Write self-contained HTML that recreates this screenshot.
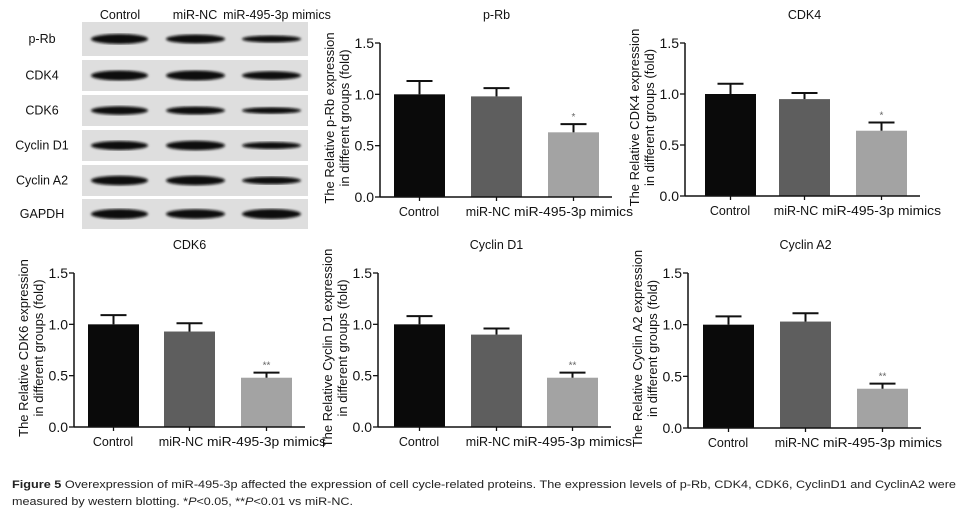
<!DOCTYPE html>
<html><head><meta charset="utf-8"><style>
html,body{margin:0;padding:0;background:#fff;}
svg{display:block;font-family:"Liberation Sans",Arial,sans-serif;}
</style></head><body>
<svg id="s" width="975" height="523" viewBox="0 0 975 523" xmlns="http://www.w3.org/2000/svg">
<rect width="975" height="523" fill="#fff"/>
<defs>
<filter id="bl"><feGaussianBlur stdDeviation="1.4"/></filter>
</defs>
<g font-size="12.5" fill="#111">
<text x="120" y="19" text-anchor="middle">Control</text>
<text x="195" y="19" text-anchor="middle">miR-NC</text>
<text x="277" y="19" text-anchor="middle">miR-495-3p mimics</text>
</g>
<g id="wb"></g>
<g id="charts"></g>
<g font-size="11" fill="#222">
<text x="12" y="488" textLength="944" lengthAdjust="spacingAndGlyphs"><tspan font-weight="bold">Figure 5</tspan> Overexpression of miR-495-3p affected the expression of cell cycle-related proteins. The expression levels of p-Rb, CDK4, CDK6, CyclinD1 and CyclinA2 were</text>
<text x="12" y="505" textLength="341" lengthAdjust="spacingAndGlyphs">measured by western blotting. *<tspan font-style="italic">P</tspan>&lt;0.05, **<tspan font-style="italic">P</tspan>&lt;0.01 vs miR-NC.</text>
</g>
</svg>
<script>
var NS="http://www.w3.org/2000/svg";
function el(p,t,a,txt){var e=document.createElementNS(NS,t);for(var k in a)e.setAttribute(k,a[k]);if(txt!==undefined)e.textContent=txt;p.appendChild(e);return e;}
var wb=document.getElementById('wb');
var rows=[["p-Rb",22,56,[1,0.9,0.7]],["CDK4",60,91,[1,1,0.85]],["CDK6",95,126,[0.85,0.8,0.65]],["Cyclin D1",130,161,[0.9,0.95,0.7]],["Cyclin A2",165,196,[0.95,0.95,0.75]],["GAPDH",199,229,[1,0.95,1]]];
var lanes=[[92,147],[167,224],[243,300]];
rows.forEach(function(r){
 el(wb,'rect',{x:82,y:r[1],width:226,height:r[2]-r[1],fill:'#dedede'});
 el(wb,'text',{x:42,y:(r[1]+r[2])/2+4,'font-size':12.5,'text-anchor':'middle',fill:'#111'},r[0]);
 var cy=(r[1]+r[2])/2;
 lanes.forEach(function(l,i){
  el(wb,'ellipse',{cx:(l[0]+l[1])/2,cy:cy,rx:(l[1]-l[0])/2+1,ry:5*r[3][i],fill:'#0d0d0d',filter:'url(#bl)'});
 });
});
var ch=document.getElementById('charts');
var charts=[
 {t:"p-Rb",ax:380,y0:197,y15:43,bars:[394,471,548],v:[1,0.98,0.63],e:[0.13,0.08,0.08],s:"*",lab:"p-Rb"},
 {t:"CDK4",ax:685,y0:196,y15:43,bars:[705,779,856],v:[1,0.95,0.64],e:[0.1,0.06,0.08],s:"*",lab:"CDK4"},
 {t:"CDK6",ax:74,y0:427,y15:273,bars:[88,164,241],v:[1,0.93,0.48],e:[0.09,0.08,0.05],s:"**",lab:"CDK6"},
 {t:"Cyclin D1",ax:378,y0:427,y15:273,bars:[394,471,547],v:[1,0.9,0.48],e:[0.08,0.06,0.05],s:"**",lab:"Cyclin D1"},
 {t:"Cyclin A2",ax:688,y0:428,y15:273,bars:[703,780,857],v:[1,1.03,0.38],e:[0.08,0.08,0.05],s:"**",lab:"Cyclin A2"}
];
var cols=['#0a0a0a','#5e5e5e','#a3a3a3'];
var offs=[-1,-8,0];
charts.forEach(function(c){
 var g=el(ch,'g',{});
 var sc=(c.y0-c.y15)/1.5, bw=51;
 function Y(v){return c.y0-v*sc;}
 c.bars.forEach(function(x,i){
  var cx=x+bw/2;
  el(g,'rect',{x:x,y:Y(c.v[i]),width:bw,height:c.y0-Y(c.v[i]),fill:cols[i]});
  var ty=Y(c.v[i]+c.e[i]);
  el(g,'line',{x1:cx,y1:Y(c.v[i]),x2:cx,y2:ty,stroke:'#111','stroke-width':2});
  el(g,'line',{x1:cx-13,y1:ty,x2:cx+13,y2:ty,stroke:'#111','stroke-width':2});
  el(g,'line',{x1:cx,y1:c.y0,x2:cx,y2:c.y0+4,stroke:'#111','stroke-width':1.3});
 });
 var b=c.bars, ty=c.y0+19;
 el(g,'text',{x:b[0]+25,y:ty,'font-size':12.5,'text-anchor':'middle',fill:'#111'},'Control');
 el(g,'text',{x:b[1]+17,y:ty,'font-size':12.5,'text-anchor':'middle',fill:'#111'},'miR-NC');
 el(g,'text',{x:b[2]-34,y:ty,'font-size':12.5,textLength:119,lengthAdjust:'spacingAndGlyphs',fill:'#111'},'miR-495-3p mimics');
 var cx3=c.bars[2]+bw/2;
 el(g,'text',{x:cx3,y:Y(c.v[2]+c.e[2])-4,'font-size':10,'text-anchor':'middle',fill:'#666'},c.s);
 el(g,'line',{x1:c.ax,y1:c.y15,x2:c.ax,y2:c.y0,stroke:'#111','stroke-width':1.5});
 el(g,'line',{x1:c.ax,y1:c.y0,x2:c.bars[2]+bw+13,y2:c.y0,stroke:'#111','stroke-width':1.5});
 [0,0.5,1,1.5].forEach(function(v){
  el(g,'line',{x1:c.ax-5,y1:Y(v),x2:c.ax,y2:Y(v),stroke:'#111','stroke-width':1.3});
  el(g,'text',{x:c.ax-6,y:Y(v)+5,'font-size':14,'text-anchor':'end',fill:'#111'},v.toFixed(1));
 });
 el(g,'text',{x:c.bars[1]+bw/2,y:c.y15-24,'font-size':12.5,'text-anchor':'middle',fill:'#111'},c.t);
 var my=(c.y0+c.y15)/2-2;
 var lx=c.ax-46;
 el(g,'text',{transform:'translate('+lx+','+my+') rotate(-90)','font-size':13,'text-anchor':'middle',fill:'#111'},'The Relative '+c.lab+' expression');
 el(g,'text',{transform:'translate('+(lx+15)+','+my+') rotate(-90)','font-size':13,'text-anchor':'middle',fill:'#111'},'in different groups (fold)');
});
</script>
</body></html>
